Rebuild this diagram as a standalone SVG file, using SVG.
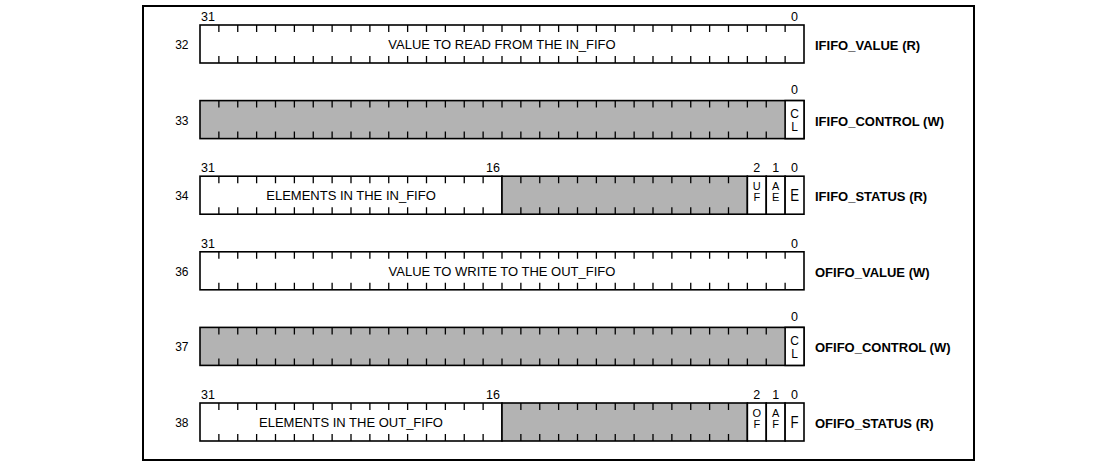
<svg xmlns="http://www.w3.org/2000/svg" xmlns:xlink="http://www.w3.org/1999/xlink" width="1117" height="467" viewBox="0 0 1117 467">
<style>
.frame{fill:#fff;stroke:#000;stroke-width:2}
.box{fill:#fff;stroke:#000;stroke-width:1.6}
.res{fill:#b3b3b3;stroke:#000;stroke-width:1.6}
.tick{fill:none;stroke:#000;stroke-width:1.3}
text{font-family:"Liberation Sans",Arial,sans-serif;fill:#000}
.num{font-size:12px;text-anchor:end}
.bit{font-size:12.5px}
.mid{text-anchor:middle}
.end{text-anchor:end}
.field{font-size:13px;text-anchor:middle}
.name{font-size:13px;font-weight:bold}
.small{font-size:11px;text-anchor:middle}
.cl{font-size:12px;text-anchor:middle}
.big{font-size:16.5px;text-anchor:middle}
</style>
<defs>
<path id="tA" class="tick" d="M218.875 0v7m0 24v7M237.75 0v7m0 24v7M256.625 0v7m0 24v7M275.5 0v7m0 24v7M294.375 0v7m0 24v7M313.25 0v7m0 24v7M332.125 0v7m0 24v7M351 0v7m0 24v7M369.875 0v7m0 24v7M388.75 0v7m0 24v7M407.625 0v7m0 24v7M426.5 0v7m0 24v7M445.375 0v7m0 24v7M464.25 0v7m0 24v7M483.125 0v7m0 24v7M502 0v7m0 24v7M520.875 0v7m0 24v7M539.75 0v7m0 24v7M558.625 0v7m0 24v7M577.5 0v7m0 24v7M596.375 0v7m0 24v7M615.25 0v7m0 24v7M634.125 0v7m0 24v7M653 0v7m0 24v7M671.875 0v7m0 24v7M690.75 0v7m0 24v7M709.625 0v7m0 24v7M728.5 0v7m0 24v7M747.375 0v7m0 24v7M766.25 0v7m0 24v7M785.125 0v7m0 24v7"/>
<path id="tC" class="tick" d="M218.875 0v7m0 24v7M237.75 0v7m0 24v7M256.625 0v7m0 24v7M275.5 0v7m0 24v7M294.375 0v7m0 24v7M313.25 0v7m0 24v7M332.125 0v7m0 24v7M351 0v7m0 24v7M369.875 0v7m0 24v7M388.75 0v7m0 24v7M407.625 0v7m0 24v7M426.5 0v7m0 24v7M445.375 0v7m0 24v7M464.25 0v7m0 24v7M483.125 0v7m0 24v7M502 0v7m0 24v7M520.875 0v7m0 24v7M539.75 0v7m0 24v7M558.625 0v7m0 24v7M577.5 0v7m0 24v7M596.375 0v7m0 24v7M615.25 0v7m0 24v7M634.125 0v7m0 24v7M653 0v7m0 24v7M671.875 0v7m0 24v7M690.75 0v7m0 24v7M709.625 0v7m0 24v7M728.5 0v7m0 24v7M747.375 0v7m0 24v7M766.25 0v7m0 24v7"/>
<path id="tS" class="tick" d="M218.875 0v7m0 24v7M237.75 0v7m0 24v7M256.625 0v7m0 24v7M275.5 0v7m0 24v7M294.375 0v7m0 24v7M313.25 0v7m0 24v7M332.125 0v7m0 24v7M351 0v7m0 24v7M369.875 0v7m0 24v7M388.75 0v7m0 24v7M407.625 0v7m0 24v7M426.5 0v7m0 24v7M445.375 0v7m0 24v7M464.25 0v7m0 24v7M483.125 0v7m0 24v7M520.875 0v7m0 24v7M539.75 0v7m0 24v7M558.625 0v7m0 24v7M577.5 0v7m0 24v7M596.375 0v7m0 24v7M615.25 0v7m0 24v7M634.125 0v7m0 24v7M653 0v7m0 24v7M671.875 0v7m0 24v7M690.75 0v7m0 24v7M709.625 0v7m0 24v7M728.5 0v7m0 24v7"/>
</defs>
<rect class="frame" x="143" y="6" width="831" height="454"/>

<g id="ififo_value" transform="translate(0,25)">
<rect class="box" x="200" y="0" width="604" height="38"/>
<use xlink:href="#tA"/>
<text class="num" x="188.5" y="24">32</text>
<text class="bit" x="201" y="-4">31</text>
<text class="bit mid" x="794.6" y="-4">0</text>
<text class="field" x="502" y="24">VALUE TO READ FROM THE IN_FIFO</text>
<text class="name" x="815" y="25">IFIFO_VALUE (R)</text>
</g>

<g id="ififo_control" transform="translate(0,100.6)">
<rect class="res" x="200" y="0" width="604" height="38"/>
<rect class="box" x="785.125" y="0" width="18.875" height="38"/>
<use xlink:href="#tC"/>
<text class="num" x="188.5" y="24">33</text>
<text class="bit mid" x="794.6" y="-6.5">0</text>
<text class="cl" x="794.6" y="17.5">C</text>
<text class="cl" x="794.6" y="30.5">L</text>
<text class="name" x="815" y="25">IFIFO_CONTROL (W)</text>
</g>

<g id="ififo_status" transform="translate(0,176.2)">
<rect class="box" x="200" y="0" width="302" height="38"/>
<rect class="res" x="502" y="0" width="245.375" height="38"/>
<rect class="box" x="747.375" y="0" width="18.875" height="38"/>
<rect class="box" x="766.25" y="0" width="18.875" height="38"/>
<rect class="box" x="785.125" y="0" width="18.875" height="38"/>
<use xlink:href="#tS"/>
<text class="num" x="188.5" y="24">34</text>
<text class="bit" x="201" y="-4">31</text>
<text class="bit end" x="500" y="-4">16</text>
<text class="bit mid" x="756.8" y="-4">2</text>
<text class="bit mid" x="775.7" y="-4">1</text>
<text class="bit mid" x="794.6" y="-4">0</text>
<text class="field" x="351" y="24">ELEMENTS IN THE IN_FIFO</text>
<text class="small" x="756.8" y="14">U</text>
<text class="small" x="756.8" y="24.5">F</text>
<text class="small" x="775.7" y="14">A</text>
<text class="small" x="775.7" y="24.5">E</text>
<text class="big" transform="translate(794.6,24.8) scale(0.8,1)">E</text>
<text class="name" x="815" y="25">IFIFO_STATUS (R)</text>
</g>

<g id="ofifo_value" transform="translate(0,251.8)">
<rect class="box" x="200" y="0" width="604" height="38"/>
<use xlink:href="#tA"/>
<text class="num" x="188.5" y="24">36</text>
<text class="bit" x="201" y="-4">31</text>
<text class="bit mid" x="794.6" y="-4">0</text>
<text class="field" x="502" y="24">VALUE TO WRITE TO THE OUT_FIFO</text>
<text class="name" x="815" y="25">OFIFO_VALUE (W)</text>
</g>

<g id="ofifo_control" transform="translate(0,327.4)">
<rect class="res" x="200" y="0" width="604" height="38"/>
<rect class="box" x="785.125" y="0" width="18.875" height="38"/>
<use xlink:href="#tC"/>
<text class="num" x="188.5" y="24">37</text>
<text class="bit mid" x="794.6" y="-6.5">0</text>
<text class="cl" x="794.6" y="17.5">C</text>
<text class="cl" x="794.6" y="30.5">L</text>
<text class="name" x="815" y="25">OFIFO_CONTROL (W)</text>
</g>

<g id="ofifo_status" transform="translate(0,403)">
<rect class="box" x="200" y="0" width="302" height="38"/>
<rect class="res" x="502" y="0" width="245.375" height="38"/>
<rect class="box" x="747.375" y="0" width="18.875" height="38"/>
<rect class="box" x="766.25" y="0" width="18.875" height="38"/>
<rect class="box" x="785.125" y="0" width="18.875" height="38"/>
<use xlink:href="#tS"/>
<text class="num" x="188.5" y="24">38</text>
<text class="bit" x="201" y="-4">31</text>
<text class="bit end" x="500" y="-4">16</text>
<text class="bit mid" x="756.8" y="-4">2</text>
<text class="bit mid" x="775.7" y="-4">1</text>
<text class="bit mid" x="794.6" y="-4">0</text>
<text class="field" x="351" y="24">ELEMENTS IN THE OUT_FIFO</text>
<text class="small" x="756.8" y="14">O</text>
<text class="small" x="756.8" y="24.5">F</text>
<text class="small" x="775.7" y="14">A</text>
<text class="small" x="775.7" y="24.5">F</text>
<text class="big" transform="translate(794.6,24.8) scale(0.8,1)">F</text>
<text class="name" x="815" y="25">OFIFO_STATUS (R)</text>
</g>
</svg>
